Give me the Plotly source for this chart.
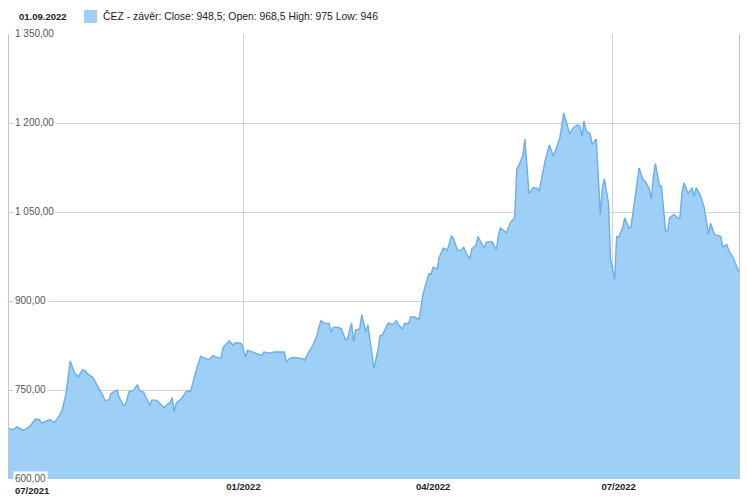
import plotly.graph_objects as go

# ---- data ----
dates = [
    "2021-09-08", "2021-09-10", "2021-09-12", "2021-09-15", "2021-09-18", "2021-09-20", "2021-09-21",
    "2021-09-23", "2021-09-24", "2021-09-26", "2021-09-28", "2021-09-30",
    "2021-10-01", "2021-10-02", "2021-10-04", "2021-10-06", "2021-10-08", "2021-10-10", "2021-10-12",
    "2021-10-14", "2021-10-15", "2021-10-17", "2021-10-19", "2021-10-21", "2021-10-24", "2021-10-25",
    "2021-10-27", "2021-10-28", "2021-10-31",
    "2021-11-01", "2021-11-03", "2021-11-04", "2021-11-06", "2021-11-08", "2021-11-10", "2021-11-11",
    "2021-11-13", "2021-11-15", "2021-11-16", "2021-11-17", "2021-11-19", "2021-11-20", "2021-11-23",
    "2021-11-24", "2021-11-26", "2021-11-27", "2021-11-28", "2021-11-29",
    "2021-12-02", "2021-12-04", "2021-12-06", "2021-12-07", "2021-12-09", "2021-12-11", "2021-12-12",
    "2021-12-15", "2021-12-17", "2021-12-19", "2021-12-21", "2021-12-22", "2021-12-25", "2021-12-27",
    "2021-12-28", "2021-12-31",
    "2022-01-02", "2022-01-03", "2022-01-05", "2022-01-07", "2022-01-10", "2022-01-11", "2022-01-14",
    "2022-01-16", "2022-01-19", "2022-01-21", "2022-01-22", "2022-01-24", "2022-01-26", "2022-01-28",
    "2022-01-30", "2022-01-31",
    "2022-02-02", "2022-02-04", "2022-02-06", "2022-02-07", "2022-02-08", "2022-02-10", "2022-02-12",
    "2022-02-13", "2022-02-14", "2022-02-16", "2022-02-18", "2022-02-20", "2022-02-21", "2022-02-23",
    "2022-02-24", "2022-02-25", "2022-02-27", "2022-02-28",
    "2022-03-02", "2022-03-03", "2022-03-04", "2022-03-06", "2022-03-08", "2022-03-09", "2022-03-10",
    "2022-03-11", "2022-03-13", "2022-03-15", "2022-03-17", "2022-03-18", "2022-03-20", "2022-03-21",
    "2022-03-23", "2022-03-24", "2022-03-26", "2022-03-28", "2022-03-29", "2022-03-30", "2022-03-31",
    "2022-04-02", "2022-04-03", "2022-04-04", "2022-04-06", "2022-04-07", "2022-04-09", "2022-04-11",
    "2022-04-13", "2022-04-14", "2022-04-16", "2022-04-18", "2022-04-19", "2022-04-20", "2022-04-22",
    "2022-04-23", "2022-04-25", "2022-04-26", "2022-04-27", "2022-04-29", "2022-04-30",
    "2022-05-02", "2022-05-03", "2022-05-05", "2022-05-06", "2022-05-07", "2022-05-09", "2022-05-10",
    "2022-05-12", "2022-05-14", "2022-05-15", "2022-05-16", "2022-05-18", "2022-05-19", "2022-05-20",
    "2022-05-21", "2022-05-23", "2022-05-25", "2022-05-26", "2022-05-27", "2022-05-28", "2022-05-29",
    "2022-05-31",
    "2022-06-02", "2022-06-03", "2022-06-05", "2022-06-06", "2022-06-07", "2022-06-09", "2022-06-10",
    "2022-06-12", "2022-06-14", "2022-06-15", "2022-06-16", "2022-06-17", "2022-06-18", "2022-06-20",
    "2022-06-21", "2022-06-23", "2022-06-24", "2022-06-25", "2022-06-26", "2022-06-27", "2022-06-29",
    "2022-06-30",
    "2022-07-02", "2022-07-03", "2022-07-04", "2022-07-06", "2022-07-07", "2022-07-09", "2022-07-10",
    "2022-07-11", "2022-07-13", "2022-07-14", "2022-07-16", "2022-07-17", "2022-07-19", "2022-07-20",
    "2022-07-21", "2022-07-22", "2022-07-24", "2022-07-25", "2022-07-27", "2022-07-28", "2022-07-29",
    "2022-07-31",
    "2022-08-02", "2022-08-03", "2022-08-04", "2022-08-05", "2022-08-07", "2022-08-09", "2022-08-10",
    "2022-08-11", "2022-08-13", "2022-08-15", "2022-08-17", "2022-08-18", "2022-08-20", "2022-08-22",
    "2022-08-23", "2022-08-24", "2022-08-26", "2022-08-27", "2022-08-29",
    "2022-09-01",
]

close = [
    685, 683, 688, 682, 688, 696, 701,
    700, 694, 697, 700, 695,
    699, 703, 715, 744, 799, 780, 772,
    784, 783, 776, 772, 760, 741, 733,
    733, 744, 750,
    738, 725, 724, 748, 749, 759, 750,
    746, 732, 724, 733, 733, 731, 720,
    724, 729, 737, 713, 728,
    737, 748, 748, 760, 786, 807, 805,
    801, 808, 805, 804, 822, 833, 825,
    830, 828,
    806, 817, 815, 812, 808, 814, 812,
    814, 814, 814, 798, 804, 805, 804,
    803, 800,
    814, 825, 842, 856, 867, 862, 862,
    847, 856, 856, 853, 835, 836, 863,
    831, 851, 853, 877,
    847, 860, 835, 786, 819, 842, 842,
    850, 863, 860, 867, 860, 853, 862,
    862, 873, 873, 869, 887, 912, 923,
    946, 945, 957, 954, 974, 989, 986,
    1010, 1005, 985, 986, 991, 982, 971,
    988, 994, 1009, 1002, 989, 999,
    999, 1000, 986, 1010, 1023, 1018, 1015,
    1033, 1040, 1123, 1128, 1145, 1173, 1128,
    1081, 1091, 1090, 1085, 1100, 1120, 1138,
    1163,
    1144, 1154, 1173, 1193, 1217, 1193, 1182,
    1193, 1197, 1194, 1178, 1203, 1187, 1182,
    1164, 1173, 1109, 1046, 1091, 1106, 1065,
    971,
    936, 1009, 1008, 1024, 1040, 1023, 1024,
    1050, 1103, 1124, 1104, 1102, 1089, 1072,
    1109, 1132, 1095, 1093, 1018, 1018, 1040,
    1046,
    1040, 1040, 1081, 1099, 1081, 1091, 1076,
    1091, 1078, 1057, 1012, 1031, 1012, 1010,
    1009, 991, 995, 985, 974,
    948.5,
]

y_tick_vals = [600, 750, 900, 1050, 1200, 1350]
y_tick_text = ["600,00", "750,00", "900,00", "1 050,00", "1 200,00", "1 350,00"]
x_tick_vals = ["2022-01-01", "2022-04-04", "2022-07-04"]
x_tick_text = ["01/2022", "04/2022", "07/2022"]
x_grid_vals = ["2022-01-01", "2022-07-01"]
first_x_label = "07/2021"
header_date = "01.09.2022"
series_label = "ČEZ - závěr: Close: 948,5; Open: 968,5 High: 975 Low: 946"

FONT = "Arial, 'Liberation Sans', sans-serif"
FILL = "#9dcff7"
LINE = "#6aaeea"
GRID = "#d2d2d2"

fig = go.Figure(
    go.Scatter(
        x=dates, y=close, mode="lines", fill="tozeroy",
        line=dict(color=LINE, width=1.4), fillcolor=FILL,
        name=series_label,
    )
)

annotations = []
for v, t in zip(y_tick_vals, y_tick_text):
    annotations.append(dict(
        xref="paper", yref="y", x=0, y=v, xshift=4, yshift=1,
        xanchor="left", yanchor="middle", text=t, showarrow=False,
        font=dict(family=FONT, size=10, color="#555555"),
        bgcolor="white", borderpad=1,
    ))
annotations.append(dict(
    xref="paper", yref="paper", x=0, y=0, xshift=4, yshift=-4,
    xanchor="left", yanchor="top", text=first_x_label, showarrow=False,
    font=dict(family=FONT, size=9.5, color="#222222", weight="bold"),
))
annotations.append(dict(
    xref="paper", yref="paper", x=0, y=1, xshift=8, yshift=18,
    xanchor="left", yanchor="middle", text=header_date, showarrow=False,
    font=dict(family=FONT, size=9.5, color="#222222", weight="bold"),
))
annotations.append(dict(
    xref="paper", yref="paper", x=0, y=1, xshift=92, yshift=18,
    xanchor="left", yanchor="middle", text=series_label, showarrow=False,
    font=dict(family=FONT, size=10.4, color="#222222"),
))

fig.update_layout(
    width=747, height=500,
    margin=dict(l=9, r=8, t=34, b=21),
    paper_bgcolor="white", plot_bgcolor="white",
    showlegend=False,
    font=dict(family=FONT),
    annotations=annotations,
    shapes=[dict(
        type="rect", xref="paper", yref="paper",
        x0=75 / 730, x1=88 / 730, y0=456 / 445, y1=469 / 445,
        fillcolor=FILL, line=dict(width=0),
    )],
    xaxis=dict(
        type="date", range=[dates[0], dates[-1]],
        tickmode="array", tickvals=x_tick_vals, ticktext=x_tick_text,
        showgrid=False, zeroline=False, showline=False, ticks="",
        tickfont=dict(family=FONT, size=9.5, color="#222222", weight="bold"),
        minor=dict(tickmode="array", tickvals=x_grid_vals, showgrid=True,
                   gridcolor=GRID, gridwidth=1, ticks=""),
    ),
    yaxis=dict(
        range=[600, 1350], tickmode="array", tickvals=y_tick_vals,
        showticklabels=False, showgrid=True, gridcolor=GRID, gridwidth=1,
        zeroline=False, showline=True, linecolor="#c4c4c4", linewidth=1,
        mirror=True, ticks="",
    ),
)

fig.write_html(
    "out.html",
    config={"displayModeBar": False},
    post_script="document.body.style.margin='0';document.body.style.overflow='hidden';",
)
